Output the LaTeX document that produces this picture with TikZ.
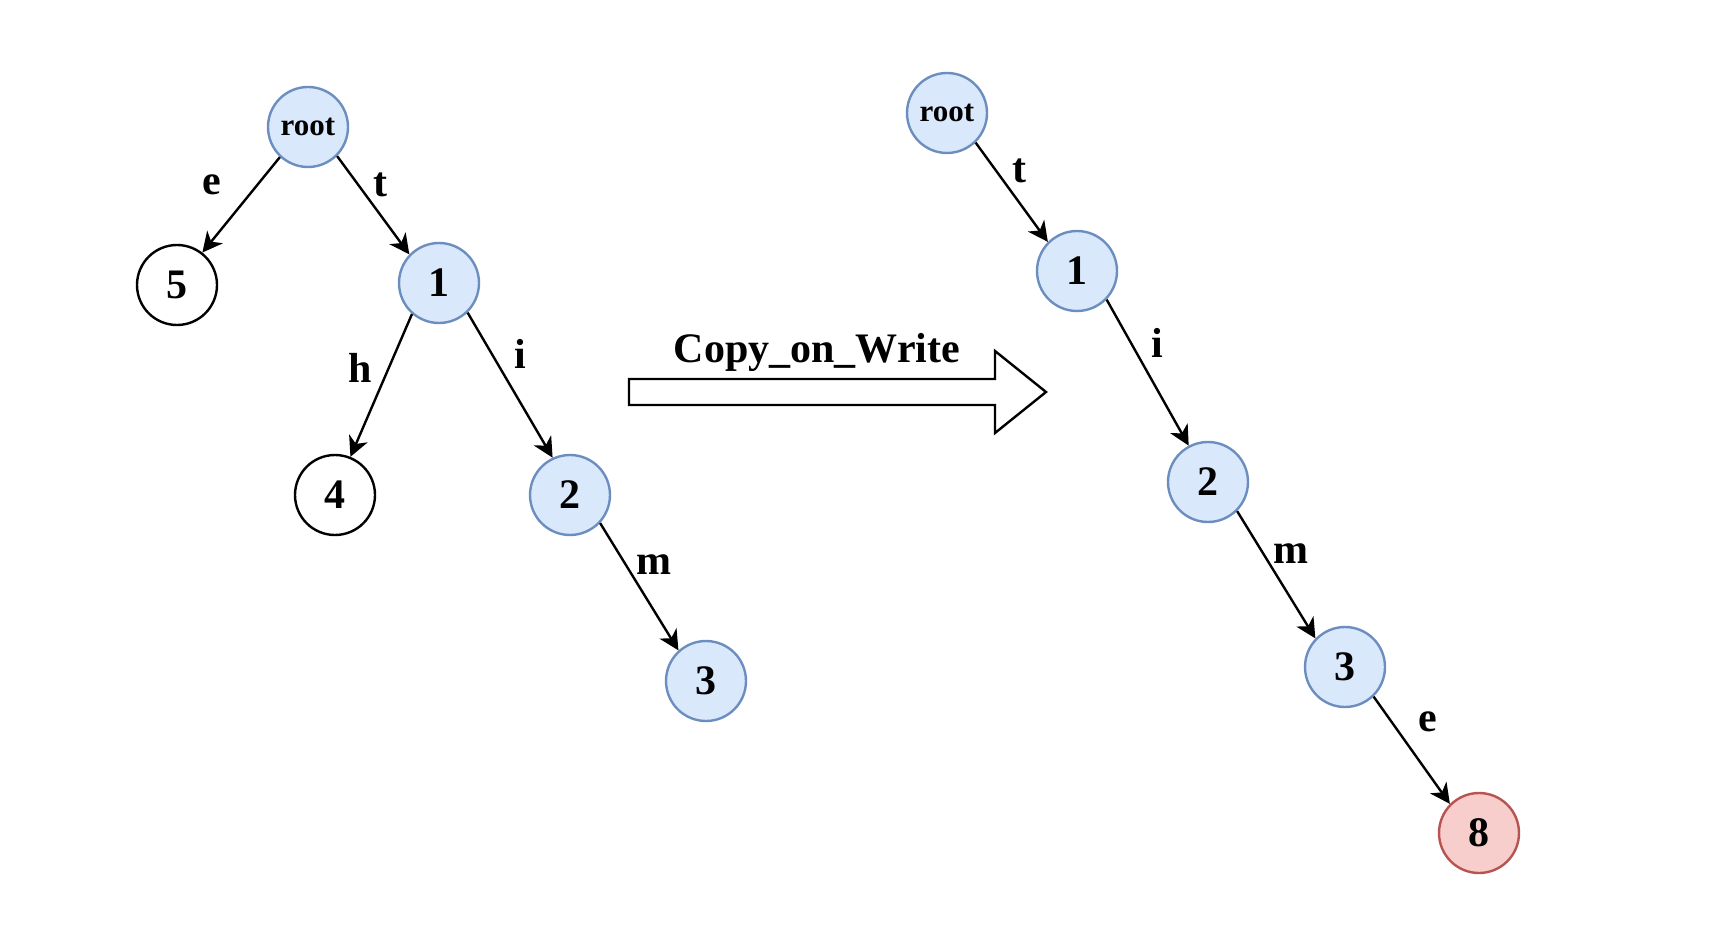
\documentclass[tikz,border=0pt]{standalone}
\usepackage{fontspec}
\setmainfont{Liberation Serif}
\usetikzlibrary{arrows.meta}
\definecolor{nodeblue}{HTML}{DAE8FC}
\definecolor{borderblue}{HTML}{6C8EBF}
\definecolor{nodered}{HTML}{F8CECC}
\definecolor{borderred}{HTML}{B85450}

\begin{document}
\begin{tikzpicture}[x=0.5pt, y=-0.5pt,
    trie/.style={circle, draw, line width=1.2pt, minimum size=40pt, inner sep=0pt,
      font=\bfseries\fontsize{21}{21}\selectfont},
    plain/.style={trie, fill=white},
    shared/.style={trie, draw=borderblue, fill=nodeblue},
    fresh/.style={trie, draw=borderred, fill=nodered},
    rootfont/.style={font=\bfseries\fontsize{15.5}{15.5}\selectfont},
    edge/.style={-{Stealth[length=10pt,width=10pt,inset=3pt]}, line width=1.2pt},
    lbl/.style={font=\bfseries\fontsize{21}{21}\selectfont, inner sep=0pt}]
  \useasboundingbox (0,0) rectangle (1709,936);

  % Old trie
  \node[shared, rootfont] (oroot) at (308,127) {root};
  \node[plain]  (o5) at (177,285) {5};
  \node[shared] (o1) at (439,283) {1};
  \node[plain]  (o4) at (335,495) {4};
  \node[shared] (o2) at (570,495) {2};
  \node[shared] (o3) at (706,681) {3};

  \draw[edge] (oroot.227) -- (o5.52);
  \draw[edge] (oroot.315) -- (o1.136);
  \draw[edge] (o1.229) -- (o4.68);
  \draw[edge] (o1.314) -- (o2.115);
  \draw[edge] (o2.317) -- (o3.132);

  \node[lbl] (oe) at (212,185) {e};
  \node[lbl] (ot) at (380,185) {t};
  \node[lbl] (oh) at (360,368) {h};
  \node[lbl] (oi) at (520,354) {i};
  \node[lbl] (om) at (654,565) {m};

  % Copy arrow
  \draw[line width=1.2pt, fill=white] (629,379) -- (995,379) -- (995,351) -- (1046,392)
    -- (995,433) -- (995,405) -- (629,405) -- cycle;
  \node[lbl] (cow) at (817,352) {Copy\_on\_Write};

  % New trie
  \node[shared, rootfont] (nroot) at (947,113) {root};
  \node[shared] (n1) at (1077,271) {1};
  \node[shared] (n2) at (1208,482) {2};
  \node[shared] (n3) at (1345,667) {3};
  \node[fresh]  (n8) at (1479,833) {8};

  \draw[edge] (nroot.314) -- (n1.135);
  \draw[edge] (n1.316) -- (n2.118);
  \draw[edge] (n2.315) -- (n3.136);
  \draw[edge] (n3.314) -- (n8.135);

  \node[lbl] (nt) at (1019,171) {t};
  \node[lbl] (ni) at (1157,343) {i};
  \node[lbl] (nm) at (1291,554) {m};
  \node[lbl] (ne) at (1428,722) {e};
\end{tikzpicture}
\end{document}
